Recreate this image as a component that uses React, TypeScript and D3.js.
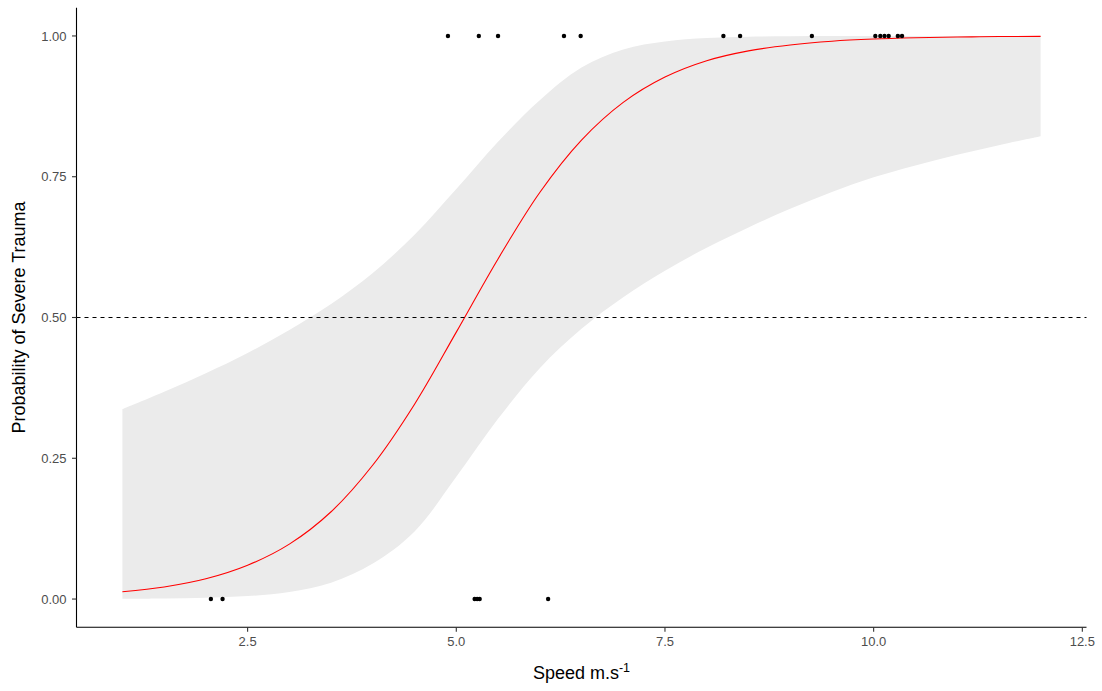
import React from "react";
import * as d3 from "d3";

// ---- data ----
const gridX = [1, 1.5, 2, 2.5, 3, 3.5, 4, 4.5, 5, 5.5, 6, 6.5, 7, 7.5, 8, 8.5, 9, 9.5, 10, 10.5, 11, 11.5, 12];
const fitY = [0.013, 0.0215, 0.036, 0.06, 0.0975, 0.155, 0.238, 0.346, 0.474, 0.604, 0.722, 0.815, 0.882, 0.927, 0.956, 0.9735, 0.984, 0.9907, 0.9945, 0.9967, 0.9981, 0.9989, 0.9993];
const upperY = [0.337, 0.368, 0.401, 0.437, 0.478, 0.524, 0.579, 0.647, 0.728, 0.812, 0.886, 0.944, 0.976, 0.99, 0.9962, 0.9985, 0.9994, 0.9998, 0.9999, 1.0, 1.0, 1.0, 1.0];
const lowerY = [0.0004, 0.0009, 0.0021, 0.0052, 0.0125, 0.029, 0.063, 0.12, 0.217, 0.32, 0.41, 0.48, 0.536, 0.583, 0.624, 0.66, 0.693, 0.723, 0.749, 0.77, 0.789, 0.806, 0.822];

const obsSpeed1 = [4.9, 5.27, 5.5, 6.29, 6.49, 8.2, 8.4, 9.26, 10.02, 10.08, 10.13, 10.18, 10.29, 10.34];
const obsSpeed0 = [2.06, 2.2, 5.22, 5.25, 5.28, 6.1];

const xTicks = [2.5, 5.0, 7.5, 10.0, 12.5];
const yTicks = [0, 0.25, 0.5, 0.75, 1.0];
const threshold = 0.5;

const W = 1102;
const H = 691;
const panel = { left: 76.5, right: 1086.5, top: 7.8, bottom: 627.2 };

export default function App() {
  const x = d3.scaleLinear().domain([0.45, 12.55]).range([panel.left, panel.right]);
  const y = d3.scaleLinear().domain([-0.05, 1.05]).range([panel.bottom, panel.top]);

  const rows = gridX.map((gx, i) => ({ x: gx, fit: fitY[i], lo: lowerY[i], hi: upperY[i] }));
  const area = d3
    .area<any>()
    .x((d) => x(d.x))
    .y0((d) => y(d.lo))
    .y1((d) => y(d.hi))
    .curve(d3.curveCatmullRom.alpha(0.5));
  const line = d3
    .line<any>()
    .x((d) => x(d.x))
    .y((d) => y(d.fit))
    .curve(d3.curveCatmullRom.alpha(0.5));

  const font = "'Liberation Sans', Arial, sans-serif";
  const tickColor = "#333333";
  const labelColor = "#4D4D4D";

  return (
    <svg
      width={W}
      height={H}
      style={{ position: "absolute", left: 0, top: 0, background: "#ffffff" }}
      fontFamily={font}
    >
      <rect x={0} y={0} width={W} height={H} fill="#ffffff" />
      <path d={area(rows) || ""} fill="#EBEBEB" stroke="none" />
      <path d={line(rows) || ""} fill="none" stroke="#FF0000" strokeWidth={1.1} />
      <line
        x1={panel.left}
        x2={panel.right}
        y1={y(threshold)}
        y2={y(threshold)}
        stroke="#000000"
        strokeWidth={1.1}
        strokeDasharray="4,4"
      />
      {obsSpeed1.map((s, i) => (
        <circle key={"a" + i} cx={x(s)} cy={y(1)} r={2.2} fill="#000000" />
      ))}
      {obsSpeed0.map((s, i) => (
        <circle key={"b" + i} cx={x(s)} cy={y(0)} r={2.2} fill="#000000" />
      ))}

      {/* axes */}
      <line x1={panel.left} x2={panel.left} y1={panel.top} y2={panel.bottom} stroke="#000" strokeWidth={1.1} />
      <line x1={panel.left} x2={panel.right} y1={panel.bottom} y2={panel.bottom} stroke="#000" strokeWidth={1.1} />

      {xTicks.map((t) => (
        <g key={"xt" + t}>
          <line x1={x(t)} x2={x(t)} y1={panel.bottom} y2={panel.bottom + 4.5} stroke={tickColor} strokeWidth={1.1} />
          <text x={x(t)} y={646} textAnchor="middle" fontSize={13} fill={labelColor}>
            {t.toFixed(1)}
          </text>
        </g>
      ))}
      {yTicks.map((t) => (
        <g key={"yt" + t}>
          <line x1={panel.left - 4.5} x2={panel.left} y1={y(t)} y2={y(t)} stroke={tickColor} strokeWidth={1.1} />
          <text x={66.5} y={y(t)} dy="0.35em" textAnchor="end" fontSize={13} fill={labelColor}>
            {t.toFixed(2)}
          </text>
        </g>
      ))}

      <text x={(panel.left + panel.right) / 2} y={679} textAnchor="middle" fontSize={18} fill="#000">
        Speed m.s
        <tspan fontSize={12.5} dy={-7}>-1</tspan>
      </text>
      <text
        transform={`translate(24.5, ${(panel.top + panel.bottom) / 2}) rotate(-90)`}
        textAnchor="middle"
        fontSize={18}
        fill="#000"
      >
        Probability of Severe Trauma
      </text>
    </svg>
  );
}
